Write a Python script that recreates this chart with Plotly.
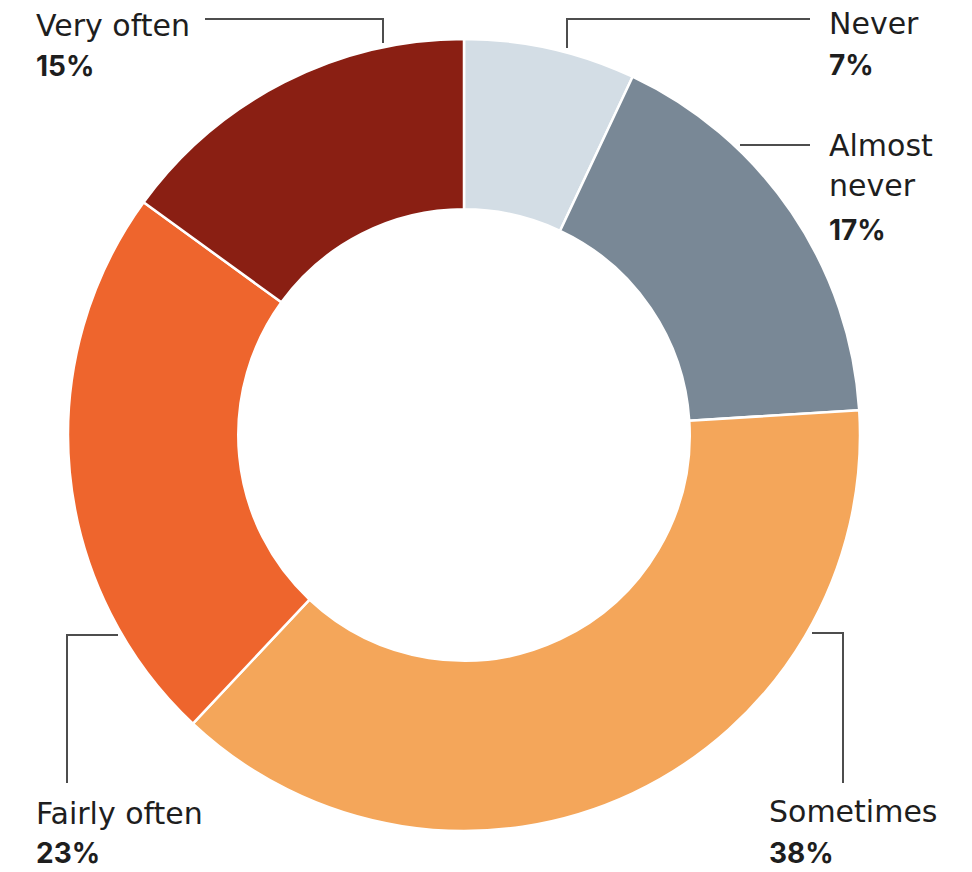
import plotly.graph_objects as go

# ---- data ----
categories = ["Never", "Almost never", "Sometimes", "Fairly often", "Very often"]
values = [7, 17, 38, 23, 15]
colors = ["#d3dde5", "#798896", "#f4a65a", "#ee652d", "#8a1f13"]

W, H = 972, 872

def px(x):
    return x / W

def py(y):
    return 1 - y / H

cx, cy, R = 464, 435, 396

fig = go.Figure(go.Pie(
    labels=categories,
    values=values,
    marker=dict(colors=colors, line=dict(color="white", width=2.5)),
    hole=0.57,
    sort=False,
    direction="clockwise",
    rotation=0,
    textinfo="none",
    hoverinfo="label+percent",
    domain=dict(x=[px(cx - R), px(cx + R)], y=[py(cy + R), py(cy - R)]),
    showlegend=False,
))

FS_NAME = 30
FS_PCT = 28
FONT_NAME = "DejaVu Sans"
FONT_PCT = "Inter"
TXT = "#1e1e1e"
LINE = "#4d4d4d"

# label layout: (lines of name, x_left, list of baselines)
label_layout = {
    "Very often": (["Very often"], 35, [37, 76]),
    "Never": (["Never"], 828, [35, 75]),
    "Almost never": (["Almost", "never"], 828, [157, 197, 240]),
    "Fairly often": (["Fairly often"], 35, [825, 863]),
    "Sometimes": (["Sometimes"], 768, [823, 863]),
}

annotations = []
for cat, val in zip(categories, values):
    lines, xl, bases = label_layout[cat]
    for i, b in enumerate(bases):
        if i < len(lines):
            t, fam, fs, off = lines[i], FONT_NAME, FS_NAME, 0.37 * FS_NAME
        else:
            t, fam, fs, off = f"<b>{val}%</b>", FONT_PCT, FS_PCT, 0.36 * FS_PCT
        annotations.append(dict(
            text=t, x=px(xl), y=py(b - off), xref="paper", yref="paper",
            xanchor="left", yanchor="middle", showarrow=False,
            font=dict(family=fam, size=fs, color=TXT), borderpad=0,
        ))

leaders = [
    [(205, 19), (383, 19), (383, 43)],
    [(567, 48), (567, 19), (810, 19)],
    [(740, 145), (810, 145)],
    [(118, 635), (67, 635), (67, 783)],
    [(812, 633), (843, 633), (843, 783)],
]
shapes = []
for pts in leaders:
    path = "M " + " L ".join(f"{px(x)},{py(y)}" for x, y in pts)
    shapes.append(dict(type="path", path=path, xref="paper", yref="paper",
                       line=dict(color=LINE, width=2)))

fig.update_layout(
    width=W, height=H,
    margin=dict(l=0, r=0, t=0, b=0),
    paper_bgcolor="white", plot_bgcolor="white",
    annotations=annotations, shapes=shapes,
)

fig.write_html("out.html")
